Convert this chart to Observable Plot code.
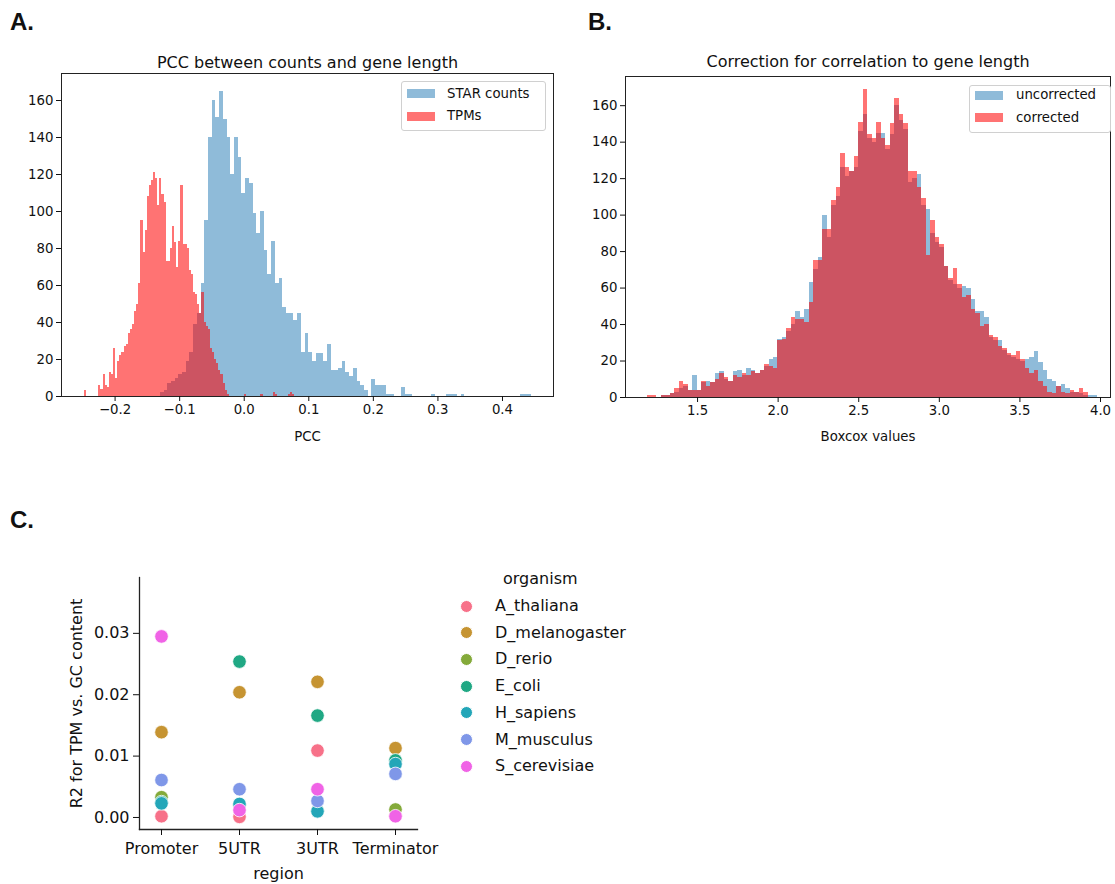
<!DOCTYPE html>
<html><head><meta charset="utf-8">
<script src="https://cdn.jsdelivr.net/npm/d3@7"></script>
<script src="https://cdn.jsdelivr.net/npm/@observablehq/plot@0.6"></script>
<style>
body{margin:0;background:#fff;width:1115px;height:884px;position:relative;overflow:hidden;font-family:"DejaVu Sans",sans-serif;color:#111;}
.panel{position:absolute;}
.lab{position:absolute;font-family:"Liberation Sans",Arial,sans-serif;font-weight:bold;font-size:24px;line-height:24px;}
.lgbox{position:absolute;border:1px solid #d0d0d0;border-radius:3px;background:#fff;}
.sw{position:absolute;}
.lt{position:absolute;font-size:13.3px;line-height:16px;white-space:nowrap;}
.ct{position:absolute;font-size:16px;line-height:18px;white-space:nowrap;}
.dot{position:absolute;width:13px;height:13px;border-radius:50%;box-sizing:border-box;border:1px solid #fff;}
</style></head><body>
<div class="lab" style="left:10px;top:10px">A.</div>
<div class="lab" style="left:588px;top:10px">B.</div>
<div class="lab" style="left:10px;top:508px">C.</div>
<div id="pa" class="panel" style="left:0;top:40px"></div>
<div id="pb" class="panel" style="left:580px;top:40px"></div>
<div id="pc" class="panel" style="left:0;top:560px"></div>
<div id="legends"></div>
<script>
// ---------- Panel A: PCC histogram (bin counts) ----------
const titleA = "PCC between counts and gene length";
const xLabelA = "PCC";
const seriesA = ["STAR counts", "TPMs"];
const starStart = -0.13, starWidth = 0.00575;
const starCounts = [
 2,3,7,8,10,12,13,19,24,39,
 45,61,95,140,160,151,165,150,140,120,
 140,129,110,118,115,99,88,100,79,66,
 84,61,64,48,45,45,41,45,24,34,
 24,19,23,23,19,28,14,14,15,19,
 13,11,15,8,6,3,0,9,6,6,
 6,1,1,0,0,5,1,1,0,0,
 0,0,0,1,0,0,0,1,1,1,
 0,1,0,0,0,0,0,0,0,0,
 0,0,0,0,0,0,0,1,1,1];
const tpmStart = -0.248, tpmWidth = 0.00326;
const tpmCounts = [
 3,0,0,0,0,0,0,6,4,12,
 6,5,13,12,26,10,19,22,24,27,
 28,34,36,39,46,50,61,95,78,90,
 108,114,117,121,118,103,118,109,105,73,
 73,80,92,83,70,84,114,82,82,80,
 68,66,56,55,50,45,56,40,38,36,
 26,24,20,18,14,12,7,3,1,0,
 0,0,0,0,0,0,1,0,0,0,
 0,0,0,0,1,0,0,0,0,0,
 2,1,0,0,0,0,0,1,2,1];
const xTicksA = [-0.2,-0.1,0.0,0.1,0.2,0.3,0.4];
const yTicksAB = [0,20,40,60,80,100,120,140,160];

// ---------- Panel B: Boxcox histogram (bin counts) ----------
const titleB = "Correction for correlation to gene length";
const xLabelB = "Boxcox values";
const seriesB = ["uncorrected", "corrected"];
const boxStart = 1.19, boxWidth = 0.0279;
const uncorrectedCounts = [
 0,0,0,1,1,2,3,5,6,4,
 12,4,8,9,8,13,14,10,9,14,
 15,12,16,15,13,15,17,21,22,32,
 33,36,40,47,44,48,63,70,77,100,
 88,105,110,126,121,124,126,146,155,142,
 140,145,145,136,144,160,152,147,118,120,
 122,105,103,90,85,82,72,64,62,60,
 61,60,54,47,47,44,33,31,31,26,
 23,22,21,20,21,22,25,19,15,10,
 9,6,7,5,3,3,2,1,1,1];
const correctedCounts = [
 1,1,0,1,1,2,5,9,7,4,
 4,4,9,6,8,10,13,11,9,12,
 11,13,12,14,13,15,18,17,16,31,
 32,38,44,43,43,41,52,75,75,92,
 92,108,115,134,126,124,132,151,169,144,
 142,151,142,138,150,164,155,150,124,124,
 115,109,78,97,88,84,72,65,71,62,
 55,56,48,46,39,40,34,33,28,27,
 24,23,25,21,16,13,15,9,6,3,
 2,6,3,2,4,3,5,3,0,0];
const xTicksB = [1.5,2.0,2.5,3.0,3.5,4.0];

// ---------- Panel C: R2 scatter ----------
const regions = ["Promoter","5UTR","3UTR","Terminator"];
const organisms = ["A_thaliana","D_melanogaster","D_rerio","E_coli","H_sapiens","M_musculus","S_cerevisiae"];
const organismColors = ["#f77189","#c69432","#84aa3a","#20a884","#23a6b8","#7f97e8","#f063e6"];
const r2_A_thaliana     = [0.0002, 0.0001, 0.0109, 0.0003];
const r2_D_melanogaster = [0.0139, 0.0204, 0.0221, 0.0113];
const r2_D_rerio        = [0.0033, 0.0020, 0.0011, 0.0013];
const r2_E_coli         = [0.0025, 0.0254, 0.0166, 0.0093];
const r2_H_sapiens      = [0.0023, 0.0022, 0.0010, 0.0087];
const r2_M_musculus     = [0.0061, 0.0046, 0.0027, 0.0071];
const r2_S_cerevisiae   = [0.0295, 0.0012, 0.0046, 0.0002];
const yTicksC = [0.00,0.01,0.02,0.03];
const yLabelC = "R2 for TPM vs. GC content";
const xLabelC = "region";
const legendTitleC = "organism";

// ---------- build ----------
const bins = (start, w, counts) => counts.map((c, i) => ({x1: start + i*w, x2: start + (i+1)*w, y: c}));
const fmt1 = d3.format(".1f");
const blue = "#1f77b4";
const baseStyle = {fontFamily:"DejaVu Sans, sans-serif", fontSize:"13.3px", color:"#111", background:"transparent", overflow:"visible"};

const plotA = Plot.plot({
  width: 560, height: 410, marginLeft: 61, marginRight: 7, marginTop: 33, marginBottom: 54,
  style: baseStyle,
  x: {domain: [-0.283, 0.479]},
  y: {domain: [0, 174.6]},
  marks: [
    Plot.rectY(bins(starStart, starWidth, starCounts), {x1:"x1", x2:"x2", y:"y", fill: blue, fillOpacity: 0.5, shapeRendering:"crispEdges"}),
    Plot.rectY(bins(tpmStart, tpmWidth, tpmCounts), {x1:"x1", x2:"x2", y:"y", fill: "red", fillOpacity: 0.55, shapeRendering:"crispEdges"}),
    Plot.frame({stroke:"#222"}),
    Plot.axisX({ticks: xTicksA, tickFormat: fmt1, tickSize: 5, tickPadding: 3, label: null}),
    Plot.axisY({ticks: yTicksAB, tickSize: 5, tickPadding: 3, label: null}),
    Plot.text([xLabelA], {frameAnchor: "bottom", dy: 40, lineAnchor: "middle", fontSize: 13.3}),
    Plot.text([titleA], {frameAnchor: "top", dy: -11, lineAnchor: "middle", fontSize: 16})
  ]
});
document.getElementById("pa").append(plotA);

const plotB = Plot.plot({
  width: 535, height: 410, marginLeft: 45, marginRight: 5, marginTop: 36, marginBottom: 53,
  style: baseStyle,
  x: {domain: [1.053, 4.062]},
  y: {domain: [0, 176]},
  marks: [
    Plot.rectY(bins(boxStart, boxWidth, uncorrectedCounts), {x1:"x1", x2:"x2", y:"y", fill: blue, fillOpacity: 0.5, shapeRendering:"crispEdges"}),
    Plot.rectY(bins(boxStart, boxWidth, correctedCounts), {x1:"x1", x2:"x2", y:"y", fill: "red", fillOpacity: 0.55, shapeRendering:"crispEdges"}),
    Plot.frame({stroke:"#222"}),
    Plot.axisX({ticks: xTicksB, tickFormat: fmt1, tickSize: 5, tickPadding: 3, label: null}),
    Plot.axisY({ticks: yTicksAB, tickSize: 5, tickPadding: 3, label: null}),
    Plot.text([xLabelB], {frameAnchor: "bottom", dy: 39, lineAnchor: "middle", fontSize: 13.3}),
    Plot.text([titleB], {frameAnchor: "top", dy: -15, lineAnchor: "middle", fontSize: 16})
  ]
});
document.getElementById("pb").append(plotB);

const r2Table = [r2_A_thaliana, r2_D_melanogaster, r2_D_rerio, r2_E_coli, r2_H_sapiens, r2_M_musculus, r2_S_cerevisiae];
const points = [];
organisms.forEach((o, i) => regions.forEach((r, j) => points.push({organism: o, region: r, value: r2Table[i][j]})));

const plotC = Plot.plot({
  width: 440, height: 324, marginLeft: 139, marginRight: 23, marginTop: 17, marginBottom: 55,
  style: {...baseStyle, fontSize: "16px"},
  x: {type: "point", domain: regions, padding: 0.27},
  y: {domain: [-0.00196, 0.0391]},
  color: {domain: organisms, range: organismColors},
  marks: [
    Plot.frame({anchor: "left", stroke: "#222", strokeWidth: 1.3}),
    Plot.frame({anchor: "bottom", stroke: "#222", strokeWidth: 1.3}),
    Plot.axisX({tickSize: 6, tickPadding: 7, label: null, fontSize: 16}),
    Plot.axisY({ticks: yTicksC, tickFormat: d3.format(".2f"), tickSize: 6, tickPadding: 4, label: null, fontSize: 16}),
    Plot.dot(points, {x: "region", y: "value", fill: "organism", r: 6.8, stroke: "white", strokeWidth: 0.8}),
    Plot.text([yLabelC], {frameAnchor: "left", dx: -63, rotate: -90, textAnchor: "middle", lineAnchor: "middle", fontSize: 16}),
    Plot.text([xLabelC], {frameAnchor: "bottom", dy: 44, lineAnchor: "middle", fontSize: 16})
  ]
});
document.getElementById("pc").append(plotC);

// ---------- legends (HTML) ----------
const lg = document.getElementById("legends");
function add(html){ lg.insertAdjacentHTML("beforeend", html); }
// Panel A legend
add(`<div class="lgbox" style="left:401px;top:81px;width:143px;height:48px"></div>`);
add(`<div class="sw" style="left:407px;top:89px;width:28px;height:9px;background:${blue};opacity:0.5"></div>`);
add(`<div class="sw" style="left:407px;top:112px;width:28px;height:9px;background:red;opacity:0.55"></div>`);
add(`<div class="lt" style="left:447px;top:86px">${seriesA[0]}</div>`);
add(`<div class="lt" style="left:447px;top:108px">${seriesA[1]}</div>`);
// Panel B legend
add(`<div class="lgbox" style="left:969px;top:85px;width:140px;height:46px"></div>`);
add(`<div class="sw" style="left:975px;top:91px;width:28px;height:9px;background:${blue};opacity:0.5"></div>`);
add(`<div class="sw" style="left:975px;top:113px;width:28px;height:9px;background:red;opacity:0.55"></div>`);
add(`<div class="lt" style="left:1016px;top:87px">${seriesB[0]}</div>`);
add(`<div class="lt" style="left:1016px;top:110px">${seriesB[1]}</div>`);
// Panel C legend
add(`<div class="ct" style="left:503px;top:570px">${legendTitleC}</div>`);
organisms.forEach((o, i) => {
  const cy = 606 + i*26.7;
  add(`<div class="dot" style="left:460px;top:${cy-6.5}px;background:${organismColors[i]}"></div>`);
  add(`<div class="ct" style="left:495px;top:${cy-9}px">${o}</div>`);
});
</script>
</body></html>
